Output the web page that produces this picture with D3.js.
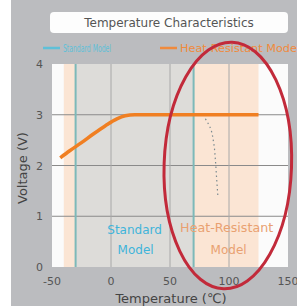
<!DOCTYPE html>
<html>
<head>
<meta charset="utf-8">
<script src="https://cdn.jsdelivr.net/npm/d3@7"></script>
<style>
html,body{margin:0;padding:0;background:#fff;}
svg{display:block;}
text{font-family:"DejaVu Sans",sans-serif;}
</style>
</head>
<body>
<svg id="chart" width="297" height="306"></svg>
<script>
// ---- data ----
const title = "Temperature Characteristics";
const xTicks = [-50, 0, 50, 100, 150];
const yTicks = [0, 1, 2, 3, 4];
const seriesNames = ["Standard Model", "Heat-Resistant Model"];
const standardRange = [-30, 70];       // operating range, standard model (°C)
const heatRange = [-40, 125];          // operating range, heat-resistant model (°C)
const heatTemps = [-43, -35, -25, -15, -5, 5, 12, 20, 125];
const heatVolts = [2.15, 2.29, 2.45, 2.62, 2.78, 2.92, 2.98, 3.0, 3.0];
const dropTemps = [80, 84, 87, 88.5, 89.5, 90.5];
const dropVolts = [2.92, 2.75, 2.45, 2.1, 1.75, 1.42];
const gridV = [1, 2, 3];
const gridT = [0, 50, 100];
const ellipseCenter = [99, 2.0];       // annotation (°C, V)
const ellipseRadii = [54, 2.43];

// ---- layout ----
const svg = d3.select("#chart");
const W = 297, H = 306;
const x = d3.scaleLinear().domain([-50, 150]).range([52, 288]);
const y = d3.scaleLinear().domain([0, 4]).range([267, 64]);

svg.append("rect").attr("x", 0).attr("y", 0).attr("width", W).attr("height", H).attr("fill", "#fff");
svg.append("rect").attr("x", 11).attr("y", 0).attr("width", W - 11).attr("height", H).attr("fill", "#bbbcbf");

// title box
svg.append("rect").attr("x", 50).attr("y", 12).attr("width", 238).attr("height", 21)
  .attr("rx", 4).attr("fill", "#fdfdfd");
svg.append("text").attr("x", 169).attr("y", 27).attr("text-anchor", "middle")
  .attr("font-size", 12).attr("fill", "#555").text(title);

// legend
const legColors = ["#5fc0d8", "#f08a3c"];
const legX = [43, 160];
const legTextW = [48, 120];
seriesNames.forEach((n, i) => {
  svg.append("line").attr("x1", legX[i]).attr("x2", legX[i] + 17).attr("y1", 48).attr("y2", 48)
    .attr("stroke", legColors[i]).attr("stroke-width", 2.5);
  svg.append("text").attr("x", legX[i] + 20).attr("y", 51.5).attr("font-size", 10)
    .attr("fill", legColors[i]).attr("textLength", legTextW[i]).attr("lengthAdjust", "spacingAndGlyphs").text(n);
});

// plot background
const [x0, x1] = x.range();
const [yb, yt] = y.range();
svg.append("rect").attr("x", x0).attr("y", yt).attr("width", x1 - x0).attr("height", yb - yt).attr("fill", "#fbfbfb");
svg.append("rect").attr("x", x(heatRange[0])).attr("y", yt)
  .attr("width", x(heatRange[1]) - x(heatRange[0])).attr("height", yb - yt).attr("fill", "#fbe5d4");
svg.append("rect").attr("x", x(standardRange[0])).attr("y", yt)
  .attr("width", x(standardRange[1]) - x(standardRange[0])).attr("height", yb - yt).attr("fill", "#dddcd9");

// grid
svg.selectAll(".gv").data(gridV).enter().append("line")
  .attr("x1", x0).attr("x2", x1).attr("y1", d => y(d)).attr("y2", d => y(d))
  .attr("stroke", "#8a8a8a").attr("stroke-width", 1);
svg.selectAll(".gt").data(gridT).enter().append("line")
  .attr("x1", d => x(d)).attr("x2", d => x(d)).attr("y1", yt).attr("y2", yb)
  .attr("stroke", "#a8a8a8").attr("stroke-width", 1);
svg.selectAll(".se").data(standardRange).enter().append("line")
  .attr("x1", d => x(d)).attr("x2", d => x(d)).attr("y1", yt).attr("y2", yb)
  .attr("stroke", "#7db9b9").attr("stroke-width", 2);

// region labels
const stdCx = x(d3.mean(standardRange));
svg.append("text").attr("x", stdCx).attr("y", 234).attr("text-anchor", "middle")
  .attr("font-size", 12).attr("fill", "#3fb4da").text("Standard");
svg.append("text").attr("x", stdCx + 1).attr("y", 254).attr("text-anchor", "middle")
  .attr("font-size", 12).attr("fill", "#3fb4da").text("Model");
const hrCx = x(98);
svg.append("text").attr("x", hrCx).attr("y", 232).attr("text-anchor", "middle")
  .attr("font-size", 12).attr("fill", "#e9a171").attr("textLength", 93).attr("lengthAdjust", "spacingAndGlyphs").text("Heat-Resistant");
svg.append("text").attr("x", hrCx + 2).attr("y", 254).attr("text-anchor", "middle")
  .attr("font-size", 12).attr("fill", "#e9a171").text("Model");

// series
const line = d3.line().x(d => x(d[0])).y(d => y(d[1])).curve(d3.curveMonotoneX);
svg.append("path").datum(d3.zip(heatTemps, heatVolts)).attr("d", line)
  .attr("fill", "none").attr("stroke", "#f07f22").attr("stroke-width", 3.5);
const line2 = d3.line().x(d => x(d[0])).y(d => y(d[1])).curve(d3.curveMonotoneY);
svg.append("path").datum(d3.zip(dropTemps, dropVolts)).attr("d", line2)
  .attr("fill", "none").attr("stroke", "#7a8a90").attr("stroke-width", 1.2).attr("stroke-dasharray", "1.5,3");

// ticks
svg.selectAll(".yt").data(yTicks).enter().append("text")
  .attr("x", 43).attr("y", d => y(d) + 4).attr("text-anchor", "end")
  .attr("font-size", 11).attr("fill", "#555").text(d => d);
svg.selectAll(".xt").data(xTicks).enter().append("text")
  .attr("x", d => x(d)).attr("y", 285).attr("text-anchor", "middle")
  .attr("font-size", 11).attr("fill", "#555").text(d => d);

// axis titles
svg.append("text").attr("transform", `translate(27,${y(1.95)}) rotate(-90)`).attr("text-anchor", "middle")
  .attr("font-size", 13).attr("fill", "#444").text("Voltage (V)");
svg.append("text").attr("x", 171).attr("y", 303).attr("text-anchor", "middle")
  .attr("font-size", 13).attr("fill", "#444").text("Temperature (℃)");

// annotation ellipse
const ecx = x(ellipseCenter[0]), ecy = y(ellipseCenter[1]);
svg.append("ellipse").attr("cx", ecx).attr("cy", ecy)
  .attr("rx", x(ellipseCenter[0] + ellipseRadii[0]) - ecx)
  .attr("ry", ecy - y(ellipseCenter[1] + ellipseRadii[1]))
  .attr("transform", `rotate(2,${ecx},${ecy})`)
  .attr("fill", "none").attr("stroke", "#c22a3a").attr("stroke-width", 3);
</script>
</body>
</html>
